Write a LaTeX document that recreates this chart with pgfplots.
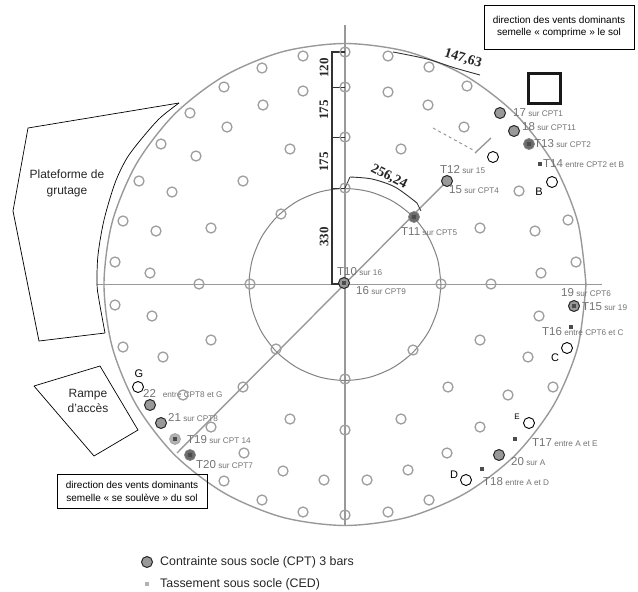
\documentclass[border=0pt]{standalone}
\usepackage{pgfplots}
\pgfplotsset{compat=1.18}
\usepackage{fontspec}
\setmainfont{Liberation Sans}
\newfontfamily\dimfont{Liberation Serif}

\definecolor{ringgray}{gray}{0.62}
\definecolor{linegray}{gray}{0.6}
\definecolor{labelgray}{gray}{0.45}
\definecolor{cptgray}{gray}{0.6}

% big label + small label, both in grey
\newcommand{\lab}[4]{\node[anchor=west,inner sep=0pt,text=labelgray] at (axis cs:#1,#2) {\fontsize{11.5}{12}\selectfont #3\fontsize{8.2}{9}\selectfont\ #4};}
\newcommand{\letter}[4][11]{\node[inner sep=0pt,text=black] at (axis cs:#2,#3) {\fontsize{#1}{#1}\selectfont #4};}
\newcommand{\dimlab}[5]{\node[inner sep=0pt,text=black!85,rotate=#3] at (axis cs:#1,#2) {\fontsize{#4}{#4}\selectfont\dimfont\bfseries #5};}

\begin{document}
\begin{tikzpicture}
\path[use as bounding box] (0,0) rectangle (638pt,592pt);
\begin{axis}[
  at={(0,0)}, anchor=south west,
  width=638pt, height=592pt, scale only axis,
  xmin=0, xmax=638, ymin=0, ymax=592,
  y dir=reverse,
  hide axis, clip=false,
]
% grid lines
\addplot[linegray, line width=1.4pt] coordinates {(97,284.5) (602,284.5)};
\addplot[linegray, line width=1.4pt] coordinates {(345,25) (345,526)};
\addplot[linegray, line width=1.4pt] coordinates {(177,453) (447,181)};
\addplot[linegray, line width=1.4pt] coordinates {(475,153) (491,138)};
\addplot[linegray, line width=1pt, dashed] coordinates {(433,128) (473,150)};

% outer circle
\addplot[linegray, line width=1.4pt, smooth] coordinates {
 (586,284.5)(577.8,222.1)(553.7,164)(515.4,114.1)(465.5,75.8)(407.4,51.7)
 (345,43.5)(282.6,51.7)(224.5,75.8)(174.6,114.1)(136.3,164)(112.2,222.1)
 (104,284.5)(112.2,346.9)(136.3,405)(174.6,454.9)(224.5,493.2)(282.6,517.3)
 (345,525.5)(407.4,517.3)(465.5,493.2)(515.4,454.9)(553.7,405)(577.8,346.9)(586,284.5)};
% inner circle
\addplot[linegray!85!black, line width=1pt, smooth] coordinates {
 (441,284.5)(437.7,259.7)(428.1,236.5)(412.9,216.6)(393,201.4)(369.8,191.8)
 (345,188.5)(320.2,191.8)(297,201.4)(277.1,216.6)(261.9,236.5)(252.3,259.7)
 (249,284.5)(252.3,309.3)(261.9,332.5)(277.1,352.4)(297,367.6)(320.2,377.2)
 (345,380.5)(369.8,377.2)(393,367.6)(412.9,352.4)(428.1,332.5)(437.7,309.3)(441,284.5)};

% anchor rings
\addplot[only marks, mark=o, mark size=5pt, mark options={draw=ringgray, line width=1.3pt}] coordinates {
 (303,56)(262,68)(224,87)(190,113)(161,144)(139,181)(123,221)(115,262)
 (303,91)(263,105)(227,127)(196,156)(172,192)(156,231)(150,273)
 (290,149)(243,181)(211,228)(281,214)(250,284)(199,284)
 (115,305)(152,316)(123,347)(163,357)(211,340)(276,349)(183,395)(243,387)
 (211,427)(290,419)(244,453)(283,471)(224,481)(324,480)(262,500)(303,512)
 (345,430)(345,379)(345,515)(441,284)(491,284)(539,316)(480,340)(528,357)
 (413,350)(553,387)(448,387)(508,395)(401,419)(480,427)(447,453)(408,470)
 (367,480)(429,500)(388,512)
 (345,52)(388,56)(429,67)(467,86)(345,87)(388,92)(428,105)(464,127)
 (345,137)(401,149)(345,188)(519,191)(480,228)(535,231)(568,220)(576,262)(541,273)
};

% dimension lines
\addplot[black!80, line width=1.1pt] coordinates {(345,52)(332,52)(332,284)(345,284)};
\addplot[black!80, line width=0.8pt] coordinates {(332,87)(345,87)};
\addplot[black!80, line width=0.8pt] coordinates {(332,137)(345,137)};
\addplot[black!80, line width=0.8pt] coordinates {(332,188)(345,188)};
\addplot[black!80, line width=0.9pt, smooth] coordinates {(393,52)(427,59)(455,68)(480,75)};
\addplot[black!80, line width=0.9pt, smooth] coordinates {(350,177)(372,179)(395,187)(417,203)};
\addplot[black!80, line width=0.8pt] coordinates {(345,188)(350,177)};
\addplot[black!80, line width=0.8pt] coordinates {(417,203)(421,211)};
\dimlab{324}{68}{90}{13}{120}
\dimlab{324}{110}{90}{13}{175}
\dimlab{324}{162}{90}{13}{175}
\dimlab{324}{237}{90}{13}{330}
\dimlab{389}{177}{-27}{14}{256,24}
\dimlab{463}{59}{-17}{14}{147,63}

% platform and ramp outlines
\addplot[black, line width=0.7pt] coordinates {(105,333)(39,341)(13,211)(28,128)(179,103)};
\addplot[black, line width=0.7pt, smooth] coordinates {(105,333)(99,300)(97,284)(98,255)(104,220)(115,183)(127,158)(143,137)(160,118)(179,103)};
\addplot[black, line width=0.7pt] coordinates {(34,386)(100,366)(138,430)(94,456)(34,386)};

% big square
\addplot[black!90, line width=3pt] coordinates {(528,73)(560,73)(560,103)(528,103)(528,73)(560,73)};

% text boxes
\addplot[black, line width=1pt] coordinates {(484,5)(634,5)(634,49)(484,49)(484,5)};
\addplot[black, line width=1pt] coordinates {(57,474)(207,474)(207,508)(57,508)(57,474)};

% open points
\addplot[only marks, mark=*, mark size=5.5pt, mark options={draw=black, fill=white, line width=0.9pt}] coordinates {
 (493,157)(552,182)(567,348)(529,423)(466,480)(138,387)};
% CPT points
\addplot[only marks, mark=*, mark size=5.5pt, mark options={draw=black!85, fill=cptgray, line width=1pt}] coordinates {
 (500,113)(514,131)(447,181)(344,283)(574,306)(499,455)(150,405)(161,423)(147,562)};
\addplot[only marks, mark=*, mark size=5.5pt, mark options={draw=black!50, fill=gray!85!black, line width=0.8pt}] coordinates {
 (529,144)(414,217)(190,455)};
\addplot[only marks, mark=*, mark size=5.5pt, mark options={draw=gray!70, fill=gray!60, line width=0.8pt}] coordinates {(175,439)};
% settlement squares
\addplot[only marks, mark=square*, mark size=1.5pt, mark options={draw=black!70, fill=black!70}] coordinates {
 (540,164)(571,327)(515,439)(482,469)(344,283)(414,217)(529,144)(574,306)(175,439)(190,455)};
\addplot[only marks, mark=square*, mark size=1.5pt, mark options={draw=gray!60, fill=gray!60}] coordinates {(147,584)};

% labels
\lab{337}{272}{T10}{sur 16}
\lab{356}{291}{16}{sur CPT9}
\lab{401}{232}{T11}{sur CPT5}
\lab{440}{170}{T12}{sur 15}
\lab{449}{190}{15}{sur CPT4}
\lab{513}{113}{17}{sur CPT1}
\lab{522}{127}{18}{sur CPT11}
\lab{534}{144}{T13}{sur CPT2}
\lab{543}{164}{T14}{entre CPT2 et B}
\lab{561}{293}{19}{sur CPT6}
\lab{582}{307}{T15}{sur 19}
\lab{542}{332}{T16}{entre CPT6 et C}
\lab{532}{443}{T17}{entre A et E}
\lab{511}{462}{20}{sur A}
\lab{483}{482}{T18}{entre A et D}
\lab{143}{394}{22}{\ \ entre CPT8 et G}
\lab{168}{418}{21}{sur CPT8}
\lab{187}{440}{T19}{sur CPT 14}
\lab{196}{465}{T20}{sur CPT7}

\letter{539}{192}{B}
\letter{555}{358}{C}
\letter[8]{517}{417}{E}
\letter{454}{475}{D}
\letter{139}{374}{G}

\node[align=center,inner sep=0pt,text=black!85,font=\fontsize{12}{16}\selectfont] at (axis cs:67,183) {Plateforme de\\grutage};
\node[align=center,inner sep=0pt,text=black!85,font=\fontsize{12}{14.5}\selectfont] at (axis cs:88,401) {Rampe\\d’accès};
\node[align=center,inner sep=0pt,text=black,font=\fontsize{10}{12.5}\selectfont] at (axis cs:559,27) {direction des vents dominants\\semelle « comprime » le sol};
\node[align=center,inner sep=0pt,text=black,font=\fontsize{10}{13}\selectfont] at (axis cs:132,491) {direction des vents dominants\\semelle « se soulève » du sol};

\node[anchor=west,inner sep=0pt,text=black!85] at (axis cs:160,562) {\fontsize{12.4}{13}\selectfont Contrainte sous socle (CPT) 3 bars};
\node[anchor=west,inner sep=0pt,text=black!85] at (axis cs:160,584) {\fontsize{12.4}{13}\selectfont Tassement sous socle (CED)};
\end{axis}
\end{tikzpicture}
\end{document}
